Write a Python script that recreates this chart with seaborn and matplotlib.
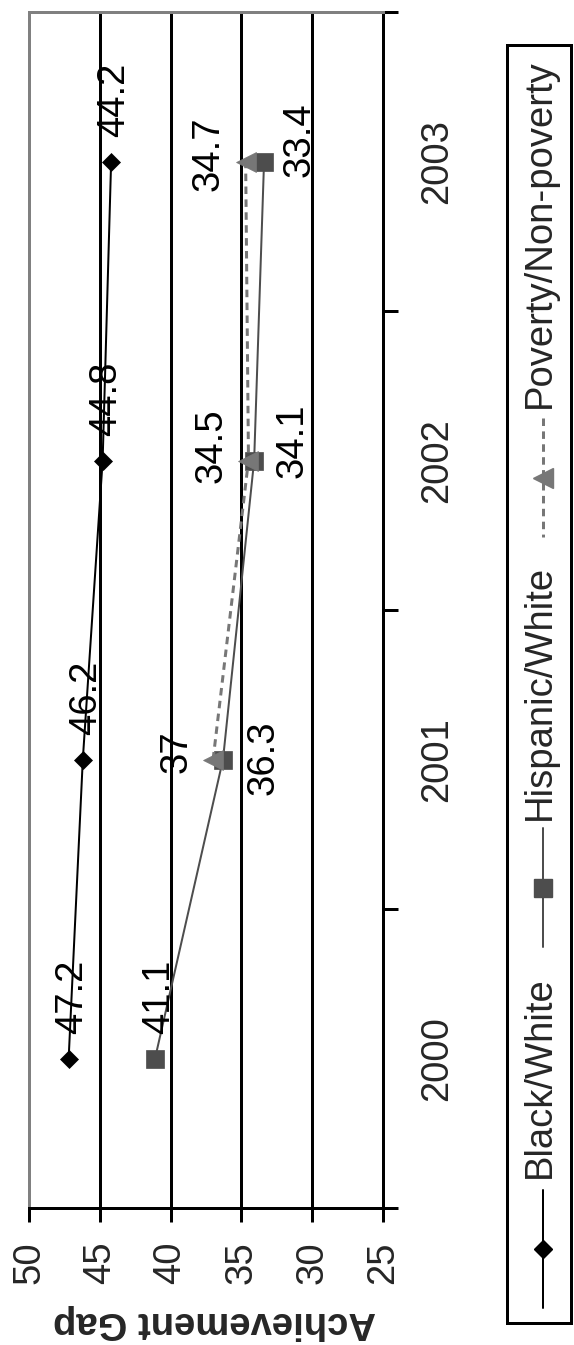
import numpy as np
import pandas as pd
import matplotlib
matplotlib.use("Agg")
import matplotlib.pyplot as plt
from matplotlib.lines import Line2D
from matplotlib.patches import Rectangle
from matplotlib.ticker import NullFormatter
import seaborn as sns

# ---- data -------------------------------------------------------------
years = ["2000", "2001", "2002", "2003"]
black_white = [47.2, 46.2, 44.8, 44.2]
hispanic_white = [41.1, 36.3, 34.1, 33.4]
poverty_gap = [np.nan, 37.0, 34.5, 34.7]
series_names = ["Black/White", "Hispanic/White", "Poverty/Non-poverty"]
value_ticks = [50, 45, 40, 35, 30, 25]
axis_title = "Achievement Gap"

# ---- canvas -----------------------------------------------------------
W, H, DPI = 574, 1345, 100
PT = 72 / DPI          # points per pixel
FS = 27.5              # font size (pt)

sns.set_style("white")
plt.rcParams["font.family"] = ["Liberation Sans", "DejaVu Sans"]


def fx(px):
    return px / W


def fy(py):
    return 1 - py / H


fig = plt.figure(figsize=(W / DPI, H / DPI), dpi=DPI)
fig.patch.set_facecolor("white")
ax = fig.add_axes([fx(29), fy(1208), (383 - 29) / W, (1208 - 12) / H])

# The chart is laid out sideways: the gap runs left (50) to right (25),
# the school years run bottom (2000) to top (2003).
styles = {
    "Black/White": dict(color="#000000", marker="D", markersize=9,
                        linestyle="-", lw=2),
    "Hispanic/White": dict(color="#4d4d4d", marker="s", markersize=13,
                           linestyle="-", lw=2),
    "Poverty/Non-poverty": dict(color="#777777", marker="<", markersize=14,
                                linestyle=(0, (2.5, 1.8)), lw=3),
}
# label offsets (px) from each marker
label_offsets = {
    "Black/White": [(3, 62), (3, 62), (3, 62), (3, 62)],
    "Hispanic/White": [(4, 62), (41, 2), (38, 20), (36, 22)],
    "Poverty/Non-poverty": [None, (-37, 8), (-37, 15), (-37, 8)],
}

records = []
for name, vals in zip(series_names, [black_white, hispanic_white, poverty_gap]):
    for i, v in enumerate(vals):
        records.append({"series": name, "pos": i, "year": years[i], "gap": v})
df = pd.DataFrame(records).dropna()

for name in series_names:
    st = styles[name]
    sub = df[df["series"] == name]
    sns.lineplot(data=sub, x="gap", y="pos", orient="y", estimator=None,
                 ax=ax, legend=False, color=st["color"],
                 marker=st["marker"], markersize=st["markersize"],
                 markeredgecolor=st["color"], markeredgewidth=0.5,
                 linewidth=st["lw"] * PT, linestyle=st["linestyle"])
    for _, row in sub.iterrows():
        dx, dy = label_offsets[name][int(row["pos"])]
        ax.annotate(f"{row['gap']:g}", (row["gap"], row["pos"]),
                    xytext=(dx * PT, dy * PT), textcoords="offset points",
                    rotation=90, ha="center", va="center", fontsize=FS,
                    color="black")

# ---- axes -------------------------------------------------------------
ax.set_xlim(50, 25)
ax.set_ylim(-0.5, 3.5)
ax.set_xlabel("")
ax.set_ylabel("")

ax.set_xticks(value_ticks)
ax.set_xticklabels([str(v) for v in value_ticks], rotation=90, fontsize=FS)
ax.tick_params(axis="x", direction="out", length=14 * PT, width=3 * PT,
               color="black", pad=19 * PT, bottom=True, labelbottom=True)
ax.xaxis.grid(True, color="black", linewidth=3 * PT)
ax.yaxis.grid(False)
ax.set_axisbelow(True)

ax.yaxis.tick_right()
ax.set_yticks(np.arange(-0.5, 4.0, 1.0))
ax.yaxis.set_major_formatter(NullFormatter())
ax.set_yticks(range(len(years)), minor=True)
ax.set_yticklabels(years, minor=True)
ax.tick_params(axis="y", which="major", direction="out", length=15 * PT,
               width=3 * PT, color="black", right=True, left=False)
ax.tick_params(axis="y", which="minor", length=0, pad=36 * PT,
               labelsize=FS, right=True, left=False,
               labelright=True, labelleft=False)
for t in ax.get_yticklabels(minor=True):
    t.set_rotation(90)
    t.set_va("center")
    t.set_ha("left")

for s in ["left", "top"]:
    ax.spines[s].set_color("#808080")
    ax.spines[s].set_linewidth(3 * PT)
for s in ["right", "bottom"]:
    ax.spines[s].set_color("black")
    ax.spines[s].set_linewidth(3 * PT)

fig.text(fx(214), fy(1322), axis_title, rotation=180, ha="center",
         va="center", fontsize=FS, fontweight="bold")

# ---- legend (sideways) ------------------------------------------------
fig.add_artist(Rectangle((fx(507), fy(1323)), (571 - 507) / W,
                         (1323 - 45) / H, transform=fig.transFigure,
                         facecolor="white", edgecolor="black",
                         linewidth=3 * PT))
legend_slots = {
    "Black/White": (1190, 1308, 1178),
    "Hispanic/White": (828, 947, 820),
    "Poverty/Non-poverty": (418, 537, 408),
}
for name in series_names:
    st = styles[name]
    y0, y1, ytxt = legend_slots[name]
    fig.add_artist(Line2D([fx(543), fx(543)], [fy(y0), fy(y1)],
                          transform=fig.transFigure, color=st["color"],
                          linewidth=st["lw"] * PT, linestyle=st["linestyle"]))
    fig.add_artist(Line2D([fx(543)], [fy((y0 + y1) / 2)],
                          transform=fig.transFigure, color=st["color"],
                          marker=st["marker"], markersize=st["markersize"],
                          markeredgecolor=st["color"], linestyle="none"))
    fig.text(fx(540), fy(ytxt), name, rotation=90, ha="center", va="bottom",
             fontsize=FS)

fig.savefig("out.png", dpi=DPI, facecolor="white")
